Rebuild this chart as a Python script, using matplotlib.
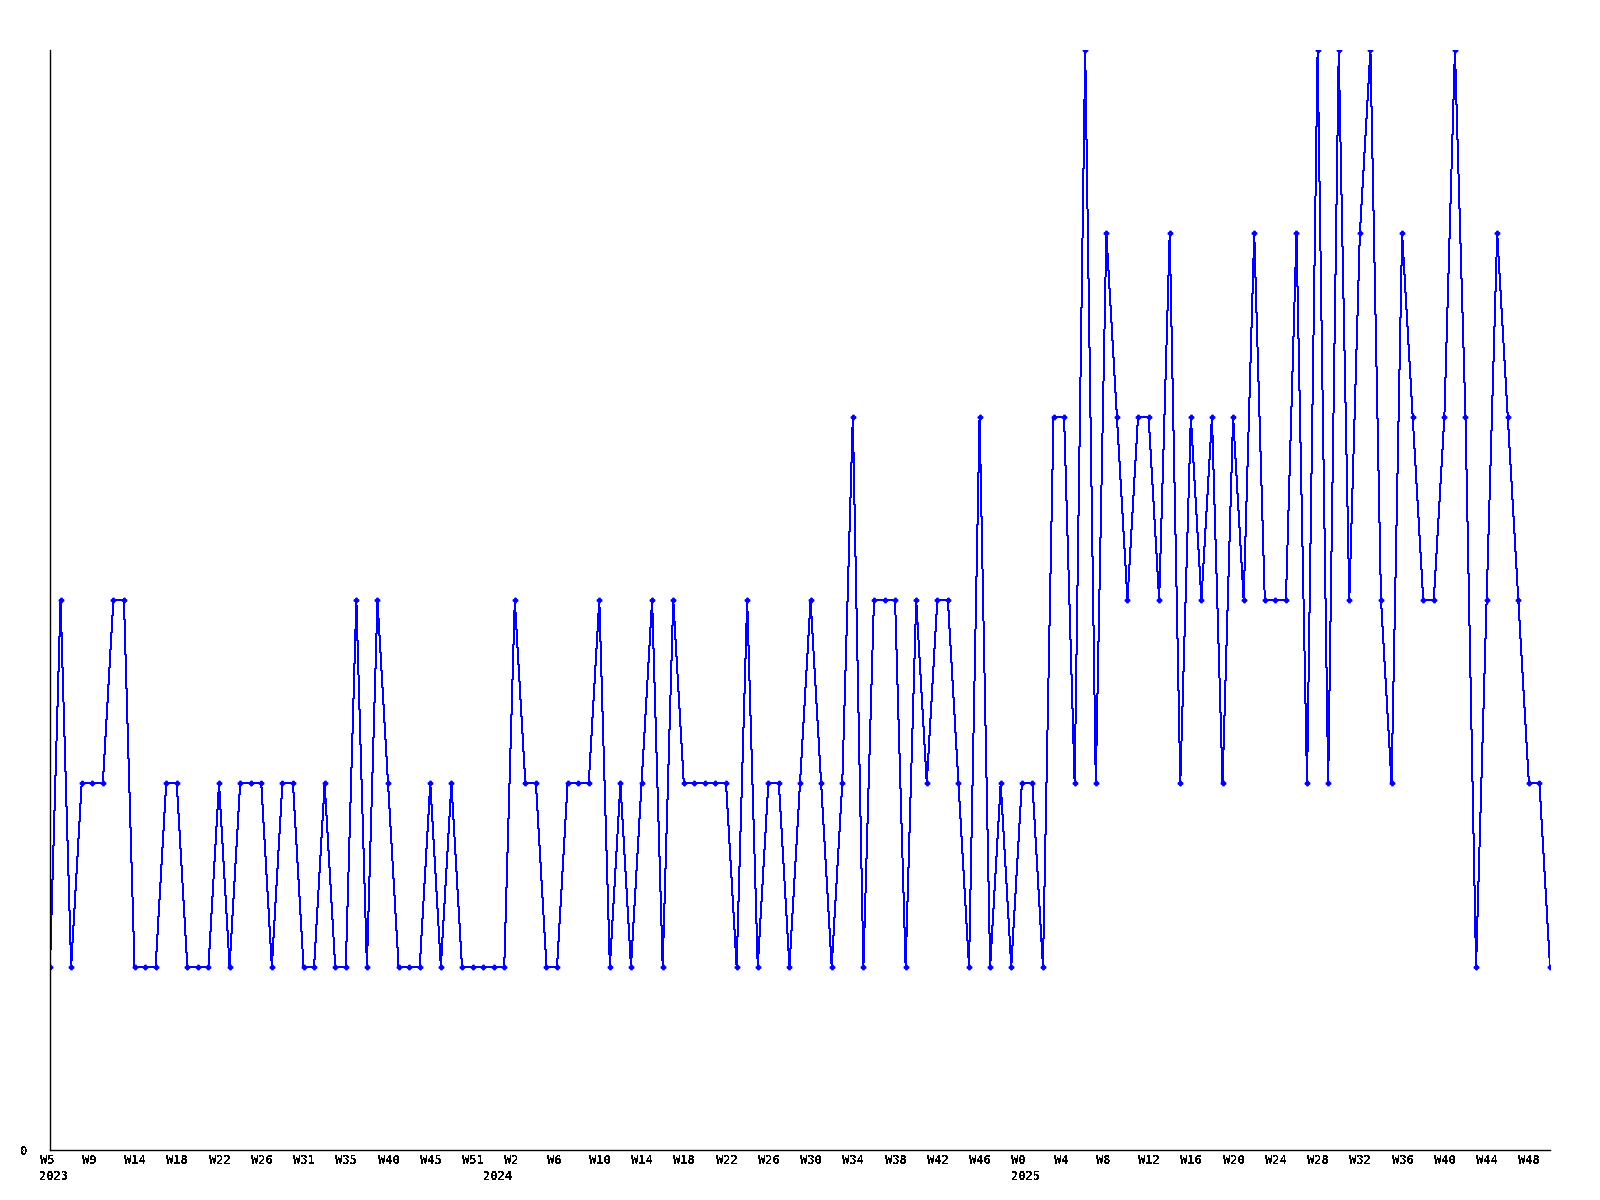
import matplotlib
matplotlib.use("Agg")
import matplotlib.pyplot as plt
import matplotlib.transforms as mtransforms
import numpy as np

# weekly counts
values = [
    1, 3, 1, 2, 2, 2, 3, 3, 1, 1, 1, 2, 2, 1, 1, 1, 2, 1, 2, 2,
    2, 1, 2, 2, 1, 1, 2, 1, 1, 3, 1, 3, 2, 1, 1, 1, 2, 1, 2, 1,
    1, 1, 1, 1, 3, 2, 2, 1, 1, 2, 2, 2, 3, 1, 2, 1, 2, 3, 1, 3,
    2, 2, 2, 2, 2, 1, 3, 1, 2, 2, 1, 2, 3, 2, 1, 2, 4, 1, 3, 3,
    3, 1, 3, 2, 3, 3, 2, 1, 4, 1, 2, 1, 2, 2, 1, 4, 4, 2, 6, 2,
    5, 4, 3, 4, 4, 3, 5, 2, 4, 3, 4, 2, 4, 3, 5, 3, 3, 3, 5, 2,
    6, 2, 6, 3, 5, 6, 3, 2, 5, 4, 3, 3, 4, 6, 4, 1, 3, 5, 4, 3,
    2, 2, 1,
]

week_labels = [
    "W5", "W9", "W14", "W18", "W22", "W26", "W31", "W35", "W40", "W45",
    "W51", "W2", "W6", "W10", "W14", "W18", "W22", "W26", "W30", "W34",
    "W38", "W42", "W46", "W0", "W4", "W8", "W12", "W16", "W20", "W24",
    "W28", "W32", "W36", "W40", "W44", "W48",
]
years = ["2023", "2024", "2025"]
year_start = [0, 42, 92]

plt.rcParams["text.antialiased"] = False
font = dict(family="DejaVu Sans Mono", fontsize=8.7, fontweight="bold", color="black")

fig = plt.figure(figsize=(16, 12), dpi=100)
ax = fig.add_axes([50 / 1600, 50 / 1200, 1500 / 1600, 1100 / 1200])

x = np.arange(len(values))
ax.plot(x, values, color="#0000ff", linewidth=0.72, marker="P", markersize=3.2,
        antialiased=False)

ax.set_xlim(0, len(values) - 1)
ax.set_ylim(0, 6)

for side in ["top", "right"]:
    ax.spines[side].set_visible(False)
for side in ["left", "bottom"]:
    ax.spines[side].set_linewidth(1)
    ax.spines[side].set_color("black")

ax.set_yticks([0])
ax.set_yticklabels(["0"], **font)
ax.tick_params(axis="y", length=0, pad=16)

ax.set_xticks([])
shift = mtransforms.ScaledTranslation(-10.5 / 100, 0, fig.dpi_scale_trans)
trans = mtransforms.blended_transform_factory(ax.transData, ax.transAxes) + shift
for k, lab in enumerate(week_labels):
    ax.text(k * 4, -11 / 1100, lab, transform=trans, ha="left", va="center", **font)
for yr, s in zip(years, year_start):
    ax.text(s, -27 / 1100, yr, transform=trans, ha="left", va="center", **font)

fig.savefig("out.png", dpi=100)
